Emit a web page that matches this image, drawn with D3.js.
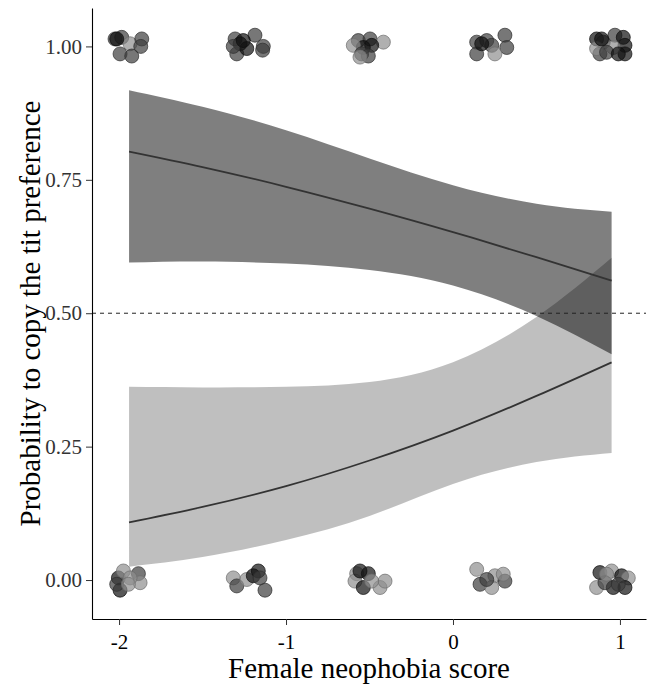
<!DOCTYPE html>
<html>
<head>
<meta charset="utf-8">
<script src="https://cdn.jsdelivr.net/npm/d3@7"></script>
<style>
  body { margin: 0; background: #fff; }
  text { font-family: "Liberation Serif", "Times New Roman", serif; }
</style>
</head>
<body>
<script>
"use strict";

// fitted curves (model predictions on the probability scale)
const fitX = [-1.94, -1.5, -1.0, -0.5, 0, 0.5, 0.95];

const copyFit   = [0.803, 0.774, 0.737, 0.696, 0.652, 0.605, 0.561];
const copyLower = [0.595, 0.597, 0.593, 0.581, 0.552, 0.495, 0.423];
const copyUpper = [0.918, 0.887, 0.843, 0.790, 0.740, 0.705, 0.690];

const otherFit   = [0.108, 0.137, 0.176, 0.224, 0.280, 0.345, 0.408];
const otherLower = [0.025, 0.043, 0.075, 0.120, 0.180, 0.221, 0.238];
const otherUpper = [0.362, 0.361, 0.362, 0.371, 0.408, 0.493, 0.604];

// raw observations (jittered), shade group 0 = black, 1 = dark grey, 2 = light grey
const pointX = [
  -2.024, -1.984, -1.934, -1.864, -1.870, -1.994, -1.924, -2.014,
  -1.305, -1.275, -1.186, -1.136, -1.140, -1.295, -1.235, -1.316, -1.256,
  -0.567, -0.497, -0.417, -0.537, -0.487, -0.597, -0.547, -0.507, -0.557,
  0.142, 0.202, 0.232, 0.311, 0.322, 0.142, 0.251, 0.172,
  0.860, 0.900, 0.970, 1.020, 1.030, 1.030, 0.960, 0.880, 0.860, 0.920, 0.990, 0.890,
  -2.004, -1.974, -1.884, -1.874, -1.994, -2.014, -1.934, -1.944,
  -1.316, -1.295, -1.235, -1.196, -1.166, -1.126, -1.156,
  -0.577, -0.507, -0.587, -0.537, -0.437, -0.407, -0.487, -0.557,
  0.142, 0.251, 0.311, 0.162, 0.232, 0.301, 0.202,
  0.880, 0.950, 1.010, 1.050, 0.860, 0.960, 1.030, 0.910, 0.990, 0.920
];
const pointY = [
  1.014, 1.017, 1.005, 1.014, 1.000, 0.986, 0.982, 1.014,
  1.014, 1.005, 1.021, 1.000, 0.993, 0.986, 0.996, 1.000, 1.011,
  1.011, 1.014, 1.008, 0.998, 1.002, 1.002, 0.986, 0.982, 0.980,
  1.008, 1.011, 1.002, 1.021, 0.998, 0.986, 0.986, 1.005,
  1.014, 1.008, 1.021, 1.017, 1.002, 0.986, 0.998, 0.986, 0.996, 0.989, 0.986, 1.014,
  0.004, 0.017, 0.012, -0.005, -0.019, -0.008, 0.004, -0.008,
  0.004, -0.011, 0.001, 0.008, 0.017, -0.019, 0.004,
  0.012, 0.012, -0.002, -0.014, -0.014, -0.002, -0.002, 0.017,
  0.020, 0.008, -0.002, -0.008, -0.014, 0.011, 0.001,
  0.014, 0.017, 0.008, 0.004, -0.014, -0.014, -0.014, -0.005, -0.008, 0.011
];
const pointShade = [
  1, 1, 2, 1, 1, 1, 1, 0,
  1, 0, 1, 1, 1, 1, 0, 1, 0,
  1, 1, 2, 0, 0, 2, 1, 1, 2,
  1, 1, 1, 1, 1, 1, 2, 0,
  0, 1, 1, 0, 0, 0, 2, 1, 2, 1, 0, 0,
  0, 2, 1, 2, 0, 1, 2, 2,
  2, 1, 2, 0, 0, 1, 1,
  2, 0, 2, 0, 2, 2, 2, 0,
  2, 2, 1, 1, 2, 2, 1,
  0, 2, 0, 2, 2, 0, 0, 1, 1, 2
];

const xTicks = [-2, -1, 0, 1];
const yTicks = [0, 0.25, 0.5, 0.75, 1];

const width = 649, height = 686;
const margin = { top: 8, right: 3, bottom: 67, left: 92 };

let svg = d3
  .select("body")
  .append("svg")
  .attr("width", width)
  .attr("height", height);

const x = d3.scaleLinear().domain([-2.162, 1.156]).range([margin.left, width - margin.right]);
const y = d3.scaleLinear().domain([-0.073, 1.072]).range([height - margin.bottom, margin.top]);

const shadeColor = d3.scaleOrdinal().domain([0, 1, 2]).range(["#111111", "#3d3d3d", "#8f8f8f"]);

// confidence ribbons
const area = d3
  .area()
  .curve(d3.curveNatural)
  .x(d => x(d[0]))
  .y0(d => y(d[1]))
  .y1(d => y(d[2]));

svg.append("path")
  .datum(fitX.map((v, i) => [v, copyLower[i], copyUpper[i]]))
  .attr("d", area)
  .attr("fill", "#000")
  .attr("fill-opacity", 0.5);

svg.append("path")
  .datum(fitX.map((v, i) => [v, otherLower[i], otherUpper[i]]))
  .attr("d", area)
  .attr("fill", "#000")
  .attr("fill-opacity", 0.25);

// reference line at 0.5
svg.append("line")
  .attr("x1", margin.left)
  .attr("x2", width - margin.right)
  .attr("y1", y(0.5))
  .attr("y2", y(0.5))
  .attr("stroke", "#222")
  .attr("stroke-width", 1)
  .attr("stroke-dasharray", "4,4");

// fitted lines
const line = d3
  .line()
  .curve(d3.curveNatural)
  .x(d => x(d[0]))
  .y(d => y(d[1]));

[copyFit, otherFit].forEach(fit => {
  svg.append("path")
    .datum(fitX.map((v, i) => [v, fit[i]]))
    .attr("d", line)
    .attr("fill", "none")
    .attr("stroke", "#333")
    .attr("stroke-width", 1.8);
});

// observations
svg.append("g")
  .selectAll("circle")
  .data(pointX.map((v, i) => ({ x: v, y: pointY[i], s: pointShade[i] })))
  .enter()
  .append("circle")
  .attr("cx", d => x(d.x))
  .attr("cy", d => y(d.y))
  .attr("r", 7)
  .attr("fill", d => shadeColor(d.s))
  .attr("fill-opacity", 0.7)
  .attr("stroke", d => d3.color(shadeColor(d.s)).darker(0.8))
  .attr("stroke-opacity", 0.7)
  .attr("stroke-width", 1);

// axes
const xAxis = svg.append("g")
  .attr("transform", `translate(0,${height - margin.bottom})`)
  .call(d3.axisBottom(x).tickValues(xTicks).tickFormat(d => String(d)).tickSize(6).tickSizeOuter(0));

const yAxis = svg.append("g")
  .attr("transform", `translate(${margin.left},0)`)
  .call(d3.axisLeft(y).tickValues(yTicks).tickFormat(d => d.toFixed(2)).tickSize(6).tickSizeOuter(0));

[xAxis, yAxis].forEach(ax => {
  ax.select(".domain").attr("stroke", "#000").attr("stroke-width", 1.1);
  ax.selectAll(".tick line").attr("stroke", "#333");
  ax.selectAll(".tick text")
    .attr("font-family", "Liberation Serif")
    .attr("font-size", 21);
});
xAxis.selectAll(".tick text").attr("fill", "#000").attr("dy", "1.0em");
yAxis.selectAll(".tick text").attr("fill", "#333").attr("x", -10);

svg.append("text")
  .attr("x", (margin.left + width - margin.right) / 2)
  .attr("y", 678)
  .attr("text-anchor", "middle")
  .attr("font-size", 29)
  .attr("fill", "#000")
  .text("Female neophobia score");

svg.append("text")
  .attr("transform", `translate(30,${(margin.top + height - margin.bottom) / 2}) rotate(-90)`)
  .attr("text-anchor", "middle")
  .attr("dominant-baseline", "central")
  .attr("font-size", 29)
  .attr("fill", "#000")
  .text("Probability to copy the tit preference");
</script>
</body>
</html>
